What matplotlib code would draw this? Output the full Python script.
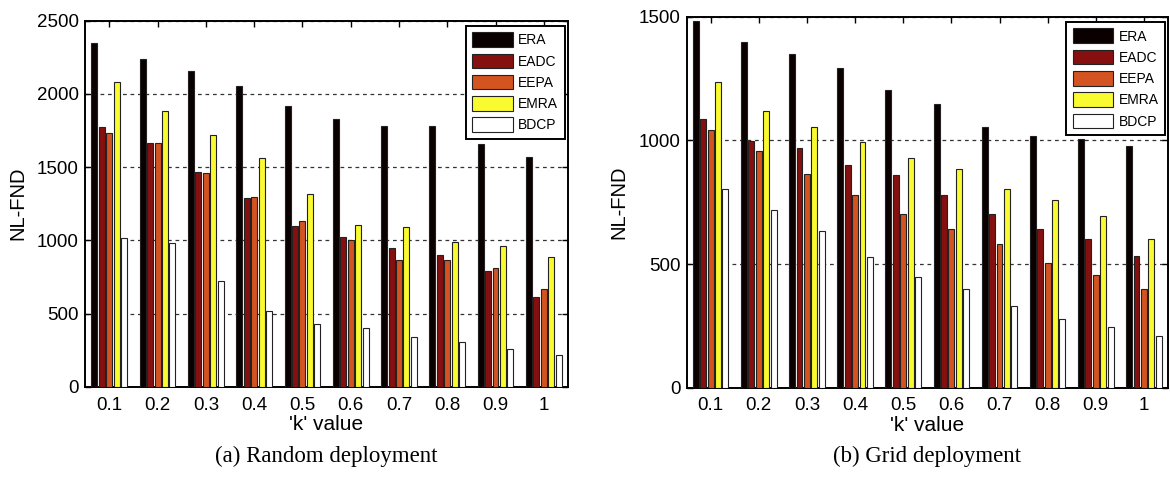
import matplotlib
matplotlib.use("Agg")
import matplotlib.pyplot as plt
import numpy as np

k_labels = ['0.1', '0.2', '0.3', '0.4', '0.5', '0.6', '0.7', '0.8', '0.9', '1']
series = ['ERA', 'EADC', 'EEPA', 'EMRA', 'BDCP']

# (a) Random deployment
rand_ERA  = [2346, 2237, 2153, 2052, 1920, 1825, 1782, 1782, 1658, 1572]
rand_EADC = [1773, 1665, 1466, 1287, 1095, 1020, 946, 903, 794, 615]
rand_EEPA = [1735, 1665, 1457, 1294, 1133, 1000, 869, 869, 814, 670]
rand_EMRA = [2081, 1880, 1719, 1559, 1316, 1102, 1093, 991, 964, 884]
rand_BDCP = [1018, 984, 724, 516, 430, 400, 339, 305, 262, 215]

# (b) Grid deployment
grid_ERA  = [1482, 1399, 1349, 1293, 1202, 1147, 1055, 1017, 1007, 978]
grid_EADC = [1086, 999, 968, 899, 859, 781, 702, 642, 601, 532]
grid_EEPA = [1042, 957, 866, 780, 702, 642, 582, 505, 454, 399]
grid_EMRA = [1234, 1120, 1055, 995, 927, 883, 802, 757, 696, 601]
grid_BDCP = [802, 719, 634, 528, 446, 399, 332, 276, 247, 211]

colors = ['#0b0000', '#861010', '#d35420', '#fafa30', '#ffffff']

plt.rcParams['font.family'] = ['Liberation Sans', 'DejaVu Sans']

fig = plt.figure(figsize=(11.7, 4.78), dpi=100)
ax1 = fig.add_axes([0.0728, 0.1904, 0.4126, 0.7667])
ax2 = fig.add_axes([0.5868, 0.1889, 0.4115, 0.7762])


def draw(ax, data, ymax, yticks, caption):
    x = np.arange(1, len(k_labels) + 1)
    slot = 0.769 / 5
    w = 0.8 * slot
    for i, (name, vals) in enumerate(zip(series, data)):
        ax.bar(x + (i - 2) * slot, vals, width=w, color=colors[i],
               edgecolor='#222222', linewidth=0.8, label=name, zorder=3)
    ax.set_xlim(0.5, 10.5)
    ax.set_ylim(0, ymax)
    ax.set_xticks(x)
    ax.set_xticklabels(k_labels)
    ax.set_yticks(yticks)
    ax.tick_params(direction='in', top=True, right=True, length=4,
                   width=1, labelsize=13.5)
    ax.tick_params(axis='x', pad=7)
    ax.tick_params(axis='y', pad=4.5)
    ax.yaxis.grid(True, linestyle=(0, (3, 3)), color='#333333', linewidth=0.9)
    ax.set_axisbelow(True)
    for s in ax.spines.values():
        s.set_linewidth(1.4)
    ax.set_ylabel('NL-FND', fontsize=14.5, labelpad=7)
    ax.set_xlabel("'k' value", fontsize=15, labelpad=1)
    leg = ax.legend(loc='upper right', bbox_to_anchor=(0.993, 0.985),
                    fontsize=10, fancybox=False, framealpha=1,
                    edgecolor='black', handlelength=2.9, handleheight=1.25,
                    labelspacing=0.45, handletextpad=0.4, borderpad=0.45,
                    borderaxespad=0)
    leg.get_frame().set_linewidth(1.4)
    bb = ax.get_position()
    fig.text(bb.x0 + bb.width / 2, 0.045, caption, ha='center', va='center',
             fontsize=16.5, family='Liberation Serif')


draw(ax1, [rand_ERA, rand_EADC, rand_EEPA, rand_EMRA, rand_BDCP], 2500,
     [0, 500, 1000, 1500, 2000, 2500], '(a) Random deployment')
draw(ax2, [grid_ERA, grid_EADC, grid_EEPA, grid_EMRA, grid_BDCP], 1500,
     [0, 500, 1000, 1500], '(b) Grid deployment')

fig.savefig('out.png', dpi=100)
